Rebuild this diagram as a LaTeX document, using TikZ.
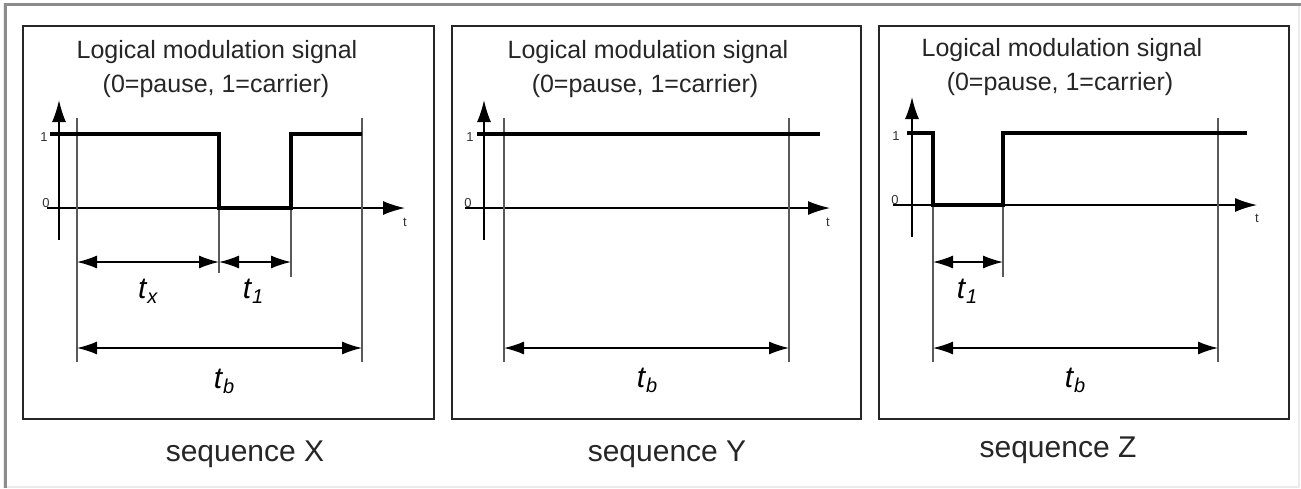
\documentclass[tikz,border=0pt]{standalone}
\usepackage{fontspec}
\setmainfont{Liberation Sans}
\usetikzlibrary{arrows.meta, positioning}

\newcommand{\tlab}[1]{\textit{t}\raisebox{-2.8pt}{\fontsize{10}{10}\selectfont\textit{#1}}}

\begin{document}
\begin{tikzpicture}[x=0.5pt, y=-0.5pt,
		panel/.style={draw=black!85, line width=1pt},
		axis/.style={-{Latex[length=11pt,width=7pt]}, line width=0.75pt},
		signal/.style={line width=1.6pt},
		marker/.style={draw=black!65, line width=0.9pt},
		dim/.style={{Latex[length=10pt,width=6.5pt]}-{Latex[length=10pt,width=6.5pt]}, line width=0.75pt},
		title/.style={font=\fontsize{12.5}{15}\selectfont, text=black!85, anchor=base, inner sep=0pt},
		seqlab/.style={font=\fontsize{15}{18}\selectfont, text=black!85, anchor=base, inner sep=0pt},
		tlabel/.style={font=\fontsize{15}{17}\selectfont, anchor=base, inner sep=0pt},
		ticklab/.style={font=\fontsize{6.5}{7}\selectfont, text=black!80, inner sep=0pt}]
	\useasboundingbox (0,0) rectangle (1301,488);
	\fill[white] (0,0) rectangle (1301,488);
	\draw[black!8, line width=1pt] (4,4) rectangle (1299,487);
	\draw[black!45, line width=1.5pt] (5,488) -- (5,4) -- (1301,4);
	
	% sequence X
	\draw[panel] (23,26) rectangle (434,419);
	\node[title] (ttlX) at (217,58) {Logical modulation signal};
	\node[title] (subX) at (216,92) {(0=pause, 1=carrier)};
	\draw[axis] (59,240) -- (59,100);
	\draw[axis] (47,208) -- (405,208);
	\node[ticklab, anchor=east] (oneX) at (48,137) {1};
	\node[ticklab, anchor=base] (zeroX) at (46,207) {0};
	\node[ticklab] (tX) at (405,222) {t};
	\coordinate (aX) at (77,118);   \coordinate (aXb) at (77,362);
	\coordinate (bX) at (219,134);  \coordinate (bXb) at (219,273);
	\coordinate (cX) at (291,134);  \coordinate (cXb) at (291,277);
	\coordinate (dX) at (362,118);  \coordinate (dXb) at (362,362);
	\draw[marker] (aX) -- (aXb);
	\draw[marker] (bX) -- (bXb);
	\draw[marker] (cX) -- (cXb);
	\draw[marker] (dX) -- (dXb);
	\draw[signal] (50,134) -- (bX) -- (219,208) -- (291,208) -- (cX) -- (362,134);
	\draw[dim] (77,262) -- (219,262);
	\draw[dim] (219,262) -- (291,262);
	\draw[dim] (77,348) -- (362,348);
	\node[tlabel] (txX) at (148,298) {\tlab{x}};
	\node[tlabel] (t1X) at (253,298) {\tlab{1}};
	\node[tlabel] (tbX) at (224,388) {\tlab{b}};
	\node[seqlab] (seqX) at (245,461) {sequence X};
	
	% sequence Y
	\draw[panel] (452,26) rectangle (861,419);
	\node[title] (ttlY) at (648,58) {Logical modulation signal};
	\node[title] (subY) at (645,92) {(0=pause, 1=carrier)};
	\draw[axis] (484,240) -- (484,100);
	\draw[axis] (465,208) -- (830,208);
	\node[ticklab, anchor=east] (oneY) at (474,137) {1};
	\node[ticklab, anchor=base] (zeroY) at (468,207) {0};
	\node[ticklab] (tY) at (828,222) {t};
	\coordinate (aY) at (504,118);  \coordinate (aYb) at (504,362);
	\coordinate (dY) at (789,118);  \coordinate (dYb) at (789,362);
	\draw[marker] (aY) -- (aYb);
	\draw[marker] (dY) -- (dYb);
	\draw[signal] (477,134) -- (820,134);
	\draw[dim] (504,348) -- (789,348);
	\node[tlabel] (tbY) at (647,387) {\tlab{b}};
	\node[seqlab] (seqY) at (667,461) {sequence Y};
	
	% sequence Z
	\draw[panel] (879,26) rectangle (1289,419);
	\node[title] (ttlZ) at (1062,56) {Logical modulation signal};
	\node[title] (subZ) at (1060,90) {(0=pause, 1=carrier)};
	\draw[axis] (912,237) -- (912,97);
	\draw[axis] (893,205) -- (1257,205);
	\node[ticklab, anchor=east] (oneZ) at (900,136) {1};
	\node[ticklab, anchor=base] (zeroZ) at (895,204) {0};
	\node[ticklab] (tZ) at (1257,218) {t};
	\coordinate (bZ) at (933,133);   \coordinate (bZb) at (933,362);
	\coordinate (cZ) at (1003,133);  \coordinate (cZb) at (1003,277);
	\coordinate (dZ) at (1218,118);  \coordinate (dZb) at (1218,362);
	\draw[marker] (bZ) -- (bZb);
	\draw[marker] (cZ) -- (cZb);
	\draw[marker] (dZ) -- (dZb);
	\draw[signal] (907,133) -- (bZ) -- (933,205) -- (1003,205) -- (cZ) -- (1247,133);
	\draw[dim] (933,262) -- (1003,262);
	\draw[dim] (933,348) -- (1218,348);
	\node[tlabel] (t1Z) at (967,298) {\tlab{1}};
	\node[tlabel] (tbZ) at (1075,387) {\tlab{b}};
	\node[seqlab] (seqZ) at (1058,457) {sequence Z};
\end{tikzpicture}
\end{document}
